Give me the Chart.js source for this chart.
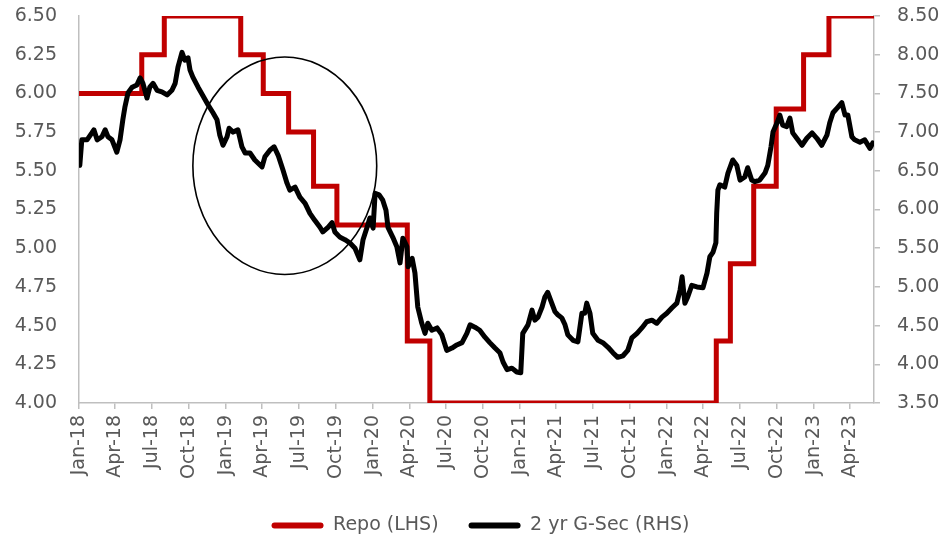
<!DOCTYPE html>
<html>
<head>
<meta charset="utf-8">
<script src="https://cdn.jsdelivr.net/npm/chart.js@4.4.0/dist/chart.umd.min.js"></script>
<style>
  html, body { margin: 0; padding: 0; background: #ffffff; }
  #wrap { width: 941px; height: 537px; }
</style>
</head>
<body>
<div id="wrap"><canvas id="chart" width="941" height="537"></canvas></div>
<script>
// Policy repo rate (%), effective dates of each change
const repoDates = ['2018-01-01', '2018-06-06', '2018-08-01', '2019-02-07', '2019-04-04', '2019-06-06',
  '2019-08-07', '2019-10-04', '2020-03-27', '2020-05-22', '2022-05-04', '2022-06-08', '2022-08-05',
  '2022-09-30', '2022-12-07', '2023-02-08', '2023-05-31'];
const repoRates = [6.00, 6.25, 6.50, 6.25, 6.00, 5.75, 5.40, 5.15, 4.40, 4.00, 4.40, 4.90, 5.40,
  5.90, 6.25, 6.50, 6.50];

// 2-year government security yield (%)
const gsecDates = [
  '2018-01-03', '2018-01-08', '2018-01-21', '2018-02-02', '2018-02-07', '2018-02-15', '2018-02-27', '2018-03-07',
  '2018-03-14', '2018-03-24', '2018-04-05', '2018-04-13', '2018-04-20', '2018-04-25', '2018-05-03', '2018-05-13',
  '2018-05-25', '2018-06-02', '2018-06-09', '2018-06-19', '2018-06-26', '2018-07-04', '2018-07-14', '2018-07-26',
  '2018-08-08', '2018-08-20', '2018-08-28', '2018-09-04', '2018-09-14', '2018-09-21', '2018-09-29', '2018-10-04',
  '2018-10-11', '2018-10-24', '2018-11-05', '2018-11-18', '2018-11-30', '2018-12-10', '2018-12-17', '2018-12-25',
  '2019-01-04', '2019-01-09', '2019-01-19', '2019-01-31', '2019-02-10', '2019-02-18', '2019-03-02', '2019-03-14',
  '2019-04-01', '2019-04-08', '2019-04-21', '2019-05-01', '2019-05-11', '2019-05-23', '2019-06-02', '2019-06-09',
  '2019-06-22', '2019-07-04', '2019-07-17', '2019-07-29', '2019-08-10', '2019-08-23', '2019-08-30', '2019-09-12',
  '2019-09-22', '2019-09-29', '2019-10-12', '2019-10-24', '2019-11-05', '2019-11-18', '2019-11-30', '2019-12-08',
  '2019-12-18', '2019-12-25',
  '2020-01-02', '2020-01-07', '2020-01-17', '2020-01-26', '2020-02-03', '2020-02-08', '2020-02-20', '2020-03-01',
  '2020-03-09', '2020-03-16', '2020-03-26', '2020-03-29', '2020-04-08', '2020-04-15', '2020-04-22', '2020-05-02',
  '2020-05-10', '2020-05-17', '2020-05-27', '2020-06-09', '2020-06-21', '2020-07-03', '2020-07-16', '2020-07-28',
  '2020-08-10', '2020-08-22', '2020-08-30', '2020-09-11', '2020-09-23', '2020-10-06', '2020-10-18', '2020-10-31',
  '2020-11-12', '2020-11-20', '2020-11-30', '2020-12-12', '2020-12-24',
  '2021-01-03', '2021-01-08', '2021-01-21', '2021-01-31', '2021-02-07', '2021-02-15', '2021-02-25', '2021-03-04',
  '2021-03-11', '2021-03-21', '2021-03-29', '2021-04-05', '2021-04-15', '2021-04-23', '2021-04-30', '2021-05-13',
  '2021-05-25', '2021-06-04', '2021-06-11', '2021-06-16', '2021-06-24', '2021-07-01', '2021-07-14', '2021-07-26',
  '2021-08-08', '2021-08-20', '2021-09-01', '2021-09-14', '2021-09-26', '2021-10-06', '2021-10-19', '2021-10-31',
  '2021-11-12', '2021-11-25', '2021-12-07', '2021-12-20',
  '2022-01-01', '2022-01-14', '2022-01-26', '2022-02-03', '2022-02-08', '2022-02-15', '2022-02-22', '2022-03-04',
  '2022-03-17', '2022-04-01', '2022-04-11', '2022-04-18', '2022-04-26', '2022-05-03', '2022-05-05', '2022-05-08',
  '2022-05-13', '2022-05-25', '2022-06-02', '2022-06-14', '2022-06-24', '2022-07-02', '2022-07-14', '2022-07-21',
  '2022-07-31', '2022-08-08', '2022-08-20', '2022-09-02', '2022-09-09', '2022-09-17', '2022-09-22', '2022-10-02',
  '2022-10-09', '2022-10-16', '2022-10-26', '2022-11-03', '2022-11-10', '2022-11-20', '2022-12-03', '2022-12-15',
  '2022-12-28',
  '2023-01-09', '2023-01-21', '2023-02-03', '2023-02-10', '2023-02-18', '2023-03-02', '2023-03-12', '2023-03-20',
  '2023-03-27', '2023-04-06', '2023-04-13', '2023-04-26', '2023-05-08', '2023-05-21', '2023-05-28'
];
const gsecYields = [
  6.57, 6.90, 6.90, 6.99, 7.03, 6.90, 6.94, 7.03,
  6.94, 6.90, 6.74, 6.90, 7.16, 7.32, 7.51, 7.58,
  7.61, 7.70, 7.63, 7.44, 7.58, 7.63, 7.54, 7.52,
  7.48, 7.54, 7.63, 7.84, 8.03, 7.93, 7.96, 7.80,
  7.71, 7.58, 7.47, 7.35, 7.25, 7.16, 6.96, 6.83,
  6.94, 7.05, 7.00, 7.03, 6.81, 6.73, 6.73, 6.64,
  6.55, 6.68, 6.77, 6.81, 6.70, 6.51, 6.34, 6.25,
  6.29, 6.16, 6.08, 5.95, 5.86, 5.77, 5.71, 5.77,
  5.83, 5.71, 5.64, 5.61, 5.57, 5.50, 5.35, 5.61,
  5.77, 5.89,
  5.76, 6.21, 6.19, 6.12, 5.99, 5.77, 5.64, 5.52,
  5.31, 5.63, 5.52, 5.26, 5.37, 5.18, 4.74, 4.53,
  4.40, 4.53, 4.44, 4.47, 4.38, 4.18, 4.21, 4.25,
  4.28, 4.40, 4.51, 4.48, 4.44, 4.35, 4.28, 4.21,
  4.15, 4.03, 3.93, 3.95, 3.90,
  3.89, 4.40, 4.51, 4.70, 4.57, 4.61, 4.74, 4.87,
  4.93, 4.79, 4.68, 4.64, 4.60, 4.51, 4.38, 4.31,
  4.29, 4.66, 4.66, 4.79, 4.66, 4.40, 4.31, 4.28,
  4.22, 4.15, 4.09, 4.11, 4.18, 4.34, 4.40, 4.47,
  4.55, 4.57, 4.53, 4.61,
  4.66, 4.73, 4.79, 4.96, 5.13, 4.79, 4.87, 5.02,
  5.00, 4.99, 5.18, 5.39, 5.45, 5.57, 5.95, 6.25,
  6.32, 6.29, 6.47, 6.64, 6.57, 6.38, 6.42, 6.54,
  6.38, 6.36, 6.38, 6.47, 6.57, 6.81, 7.00, 7.12,
  7.22, 7.09, 7.07, 7.18, 6.99, 6.92, 6.83, 6.92,
  6.99,
  6.92, 6.83, 6.96, 7.12, 7.25, 7.32, 7.38, 7.22,
  7.22, 6.94, 6.90, 6.87, 6.90, 6.79, 6.86
];

// Quarterly date ticks on the horizontal axis
const quarterTicks = [
  '2018-01-01', '2018-04-01', '2018-07-01', '2018-10-01', '2019-01-01', '2019-04-01', '2019-07-01', '2019-10-01',
  '2020-01-01', '2020-04-01', '2020-07-01', '2020-10-01', '2021-01-01', '2021-04-01', '2021-07-01', '2021-10-01',
  '2022-01-01', '2022-04-01', '2022-07-01', '2022-10-01', '2023-01-01', '2023-04-01'
];
const monthNames = ['Jan', 'Feb', 'Mar', 'Apr', 'May', 'Jun', 'Jul', 'Aug', 'Sep', 'Oct', 'Nov', 'Dec'];
const axisStart = '2018-01-01';
const axisEnd = '2023-05-31';

// Easing-cycle highlight ring (dates on x, repo % on the left axis)
const focusRing = { from: '2018-10-11', to: '2020-01-11', top: 6.235, bottom: 4.83 };

// Day count since the start of the axis
const ORIGIN = Date.UTC(2018, 0, 1);
function dayNum(s) {
  const [y, m, d] = s.split('-').map(Number);
  return Math.round((Date.UTC(y, m - 1, d) - ORIGIN) / 86400000);
}
const tickLabel = {};
quarterTicks.forEach(s => {
  const [y, m] = s.split('-').map(Number);
  tickLabel[dayNum(s)] = monthNames[m - 1] + '-' + String(y).slice(2);
});

const TEXT = '#595959';
const AXIS = '#BFBFBF';
const FONT = { family: "'DejaVu Sans', sans-serif", size: 19 };

// Keep the value axes' end labels from pushing the plot area inward
function fixAxis(width) {
  return scale => {
    scale.width = width;
    scale.paddingTop = 11;
    scale.paddingBottom = 11;
  };
}

const ringPlugin = {
  id: 'focusRing',
  afterDatasetsDraw(chart) {
    const { ctx, scales } = chart;
    const x0 = scales.x.getPixelForValue(dayNum(focusRing.from));
    const x1 = scales.x.getPixelForValue(dayNum(focusRing.to));
    const y0 = scales.y.getPixelForValue(focusRing.top);
    const y1 = scales.y.getPixelForValue(focusRing.bottom);
    ctx.save();
    ctx.beginPath();
    ctx.ellipse((x0 + x1) / 2, (y0 + y1) / 2, Math.abs(x1 - x0) / 2, Math.abs(y1 - y0) / 2, 0, 0, Math.PI * 2);
    ctx.lineWidth = 1.6;
    ctx.strokeStyle = '#000000';
    ctx.stroke();
    ctx.restore();
  }
};

// Centre the legend under the plot area rather than the whole canvas
const legendCentre = {
  id: 'legendCentre',
  afterLayout(chart) {
    const lg = chart.legend;
    if (!lg) return;
    const shift = ((chart.chartArea.left + chart.chartArea.right) - (lg.left + lg.right)) / 2 + 4;
    lg.left += shift;
    lg.right += shift;
  }
};

new Chart(document.getElementById('chart'), {
  type: 'line',
  data: {
    datasets: [
      {
        label: 'Repo (LHS)',
        data: repoDates.map((d, i) => ({ x: dayNum(d), y: repoRates[i] })),
        yAxisID: 'y',
        borderColor: '#C00000',
        backgroundColor: '#C00000',
        borderWidth: 5,
        stepped: 'before',
        pointRadius: 0,
        order: 1
      },
      {
        label: '2 yr G-Sec (RHS)',
        data: gsecDates.map((d, i) => ({ x: dayNum(d), y: gsecYields[i] })),
        yAxisID: 'y1',
        borderColor: '#000000',
        backgroundColor: '#000000',
        borderWidth: 5,
        tension: 0,
        pointRadius: 0,
        borderJoinStyle: 'round',
        borderCapStyle: 'round',
        order: 0
      }
    ]
  },
  options: {
    responsive: false,
    animation: false,
    devicePixelRatio: 1,
    layout: { padding: { left: 0, right: 0, top: 16, bottom: 0 } },
    plugins: {
      tooltip: { enabled: false },
      legend: {
        position: 'bottom',
        maxHeight: 51,
        labels: {
          color: TEXT,
          font: FONT,
          boxWidth: 52,
          boxHeight: 6,
          padding: 30,
          useBorderRadius: true,
          borderRadius: 3,
          sort: (a, b) => a.datasetIndex - b.datasetIndex,
          generateLabels: chart => Chart.defaults.plugins.legend.labels.generateLabels(chart)
            .map(l => Object.assign({}, l, { lineWidth: 0, fillStyle: l.strokeStyle }))
        }
      }
    },
    scales: {
      x: {
        type: 'linear',
        min: dayNum(axisStart),
        max: dayNum(axisEnd),
        afterBuildTicks: scale => { scale.ticks = quarterTicks.map(s => ({ value: dayNum(s) })); },
        afterFit: scale => { scale.height = 83; },
        ticks: {
          autoSkip: false,
          minRotation: 90,
          maxRotation: 90,
          padding: 6,
          color: TEXT,
          font: FONT,
          callback: v => tickLabel[v] || ''
        },
        grid: { drawOnChartArea: false, drawTicks: true, tickLength: 6, color: AXIS, lineWidth: 1.5 },
        border: { color: AXIS, width: 1.5 }
      },
      y: {
        position: 'left',
        min: 4,
        max: 6.5,
        afterFit: fixAxis(79),
        ticks: { stepSize: 0.25, padding: 22, color: TEXT, font: FONT, callback: v => Number(v).toFixed(2) },
        grid: { display: false, drawTicks: false },
        border: { color: AXIS, width: 1.5 }
      },
      y1: {
        position: 'right',
        min: 3.5,
        max: 8.5,
        afterFit: fixAxis(67),
        ticks: { stepSize: 0.5, padding: 17, color: TEXT, font: FONT, callback: v => Number(v).toFixed(2) },
        grid: { drawOnChartArea: false, drawTicks: true, tickLength: 6, color: AXIS, lineWidth: 1.5 },
        border: { color: AXIS, width: 1.5 }
      }
    }
  },
  plugins: [ringPlugin, legendCentre]
});
</script>
</body>
</html>
